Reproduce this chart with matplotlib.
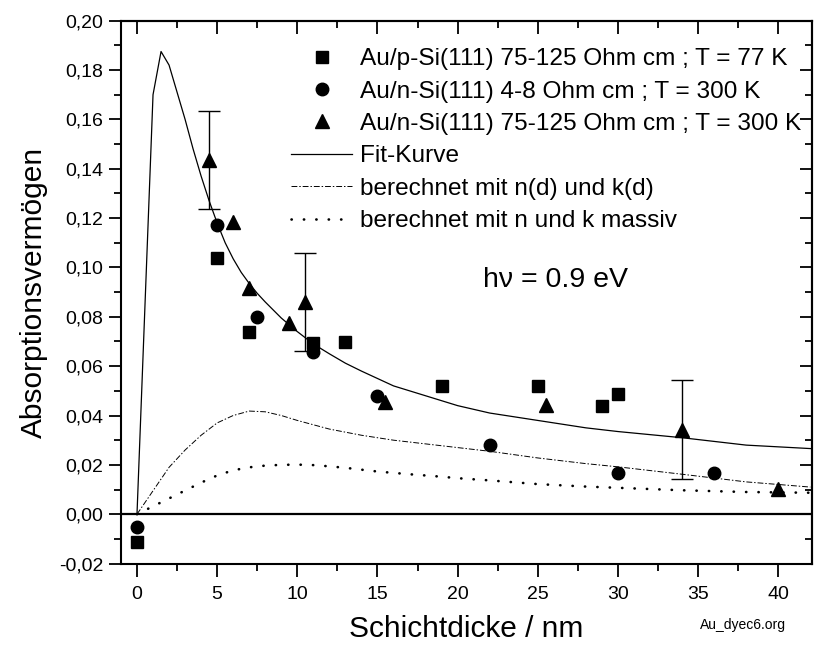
import numpy as np
import matplotlib
matplotlib.use("Agg")
import matplotlib.pyplot as plt
from matplotlib.lines import Line2D
from matplotlib.ticker import MultipleLocator, FuncFormatter

plt.rcParams["font.family"] = ["Liberation Sans", "DejaVu Sans"]

# measured points
sq_x = [0, 5, 7, 11, 13, 19, 25, 29, 30]
sq_y = [-0.0112, 0.104, 0.0739, 0.0694, 0.0698, 0.0519, 0.0519, 0.0438, 0.0489]

circ_x = [0, 5, 7.5, 11, 15, 22, 30, 36]
circ_y = [-0.0051, 0.117, 0.080, 0.0658, 0.0478, 0.028, 0.0168, 0.0168]

tri_x = [4.5, 6, 7, 9.5, 10.5, 15.5, 25.5, 34, 40]
tri_y = [0.1435, 0.1185, 0.0915, 0.0776, 0.086, 0.0455, 0.0442, 0.0343, 0.0104]

err_x = [4.5, 10.5, 34]
err_y = [0.1435, 0.086, 0.0343]
err_size = [0.020, 0.020, 0.020]

# curves
fit_x = [0, 1, 1.5, 2, 2.5, 3, 3.5, 4, 4.5, 5, 5.5, 6, 6.5, 7, 7.5, 8, 9, 10, 11, 12, 13, 14,
         16, 18, 20, 22, 25, 28, 30, 34, 38, 42]
fit_y = [0, 0.170, 0.1875, 0.182, 0.171, 0.160, 0.148, 0.137, 0.127, 0.118, 0.110, 0.1035,
         0.098, 0.0935, 0.0895, 0.086, 0.0795, 0.074, 0.069, 0.065, 0.0612, 0.058, 0.052,
         0.048, 0.044, 0.041, 0.038, 0.035, 0.0335, 0.031, 0.028, 0.0266]

nk_d_x = [0, 1, 2, 3, 4, 5, 6, 7, 8, 9, 10, 12, 14, 16, 18, 20, 22, 25, 28, 30, 34, 38, 42]
nk_d_y = [0, 0.0095, 0.019, 0.026, 0.032, 0.037, 0.040, 0.0418, 0.0415, 0.040, 0.038, 0.0345,
          0.032, 0.030, 0.0285, 0.027, 0.0255, 0.0228, 0.0205, 0.0192, 0.0162, 0.0131, 0.011]

nk_m_x = [0, 1, 2, 3, 4, 5, 6, 7, 8, 9, 10, 11, 12, 13, 15, 17, 19, 20, 22, 25, 28, 30, 34, 38, 42]
nk_m_y = [0, 0.0032, 0.0064, 0.0096, 0.0128, 0.0157, 0.0178, 0.019, 0.0197, 0.0200, 0.0201, 0.0199,
          0.0194, 0.0188, 0.0173, 0.0162, 0.0152, 0.0146, 0.0137, 0.0122, 0.0112, 0.0107, 0.0097,
          0.009, 0.0087]

labels = [
    "Au/p-Si(111) 75-125 Ohm cm ; T = 77 K",
    "Au/n-Si(111) 4-8 Ohm cm ; T = 300 K",
    "Au/n-Si(111) 75-125 Ohm cm ; T = 300 K",
    "Fit-Kurve",
    "berechnet mit n(d) und k(d)",
    "berechnet mit n und k massiv",
]

dashdot = (0, (6, 2, 1.5, 2))
dotted = (0, (0.1, 4.6))

fig = plt.figure(figsize=(8.14, 6.46), dpi=100)
ax = fig.add_axes([0.1486, 0.1276, 0.8489, 0.8404])

ax.axhline(0, color="black", lw=1.6, zorder=1)
ax.plot(fit_x, fit_y, color="black", lw=0.9, zorder=2)
ax.plot(nk_d_x, nk_d_y, color="black", lw=0.7, linestyle=dashdot, zorder=2)
ax.plot(nk_m_x, nk_m_y, color="black", lw=1.9, linestyle=dotted,
        dash_capstyle="round", zorder=2)

ax.errorbar(err_x, err_y, yerr=err_size, fmt="none", ecolor="black", elinewidth=1,
            capsize=8, capthick=1, zorder=3)
ax.plot(sq_x, sq_y, "s", color="black", ms=8, zorder=4)
ax.plot(circ_x, circ_y, "o", color="black", ms=9, zorder=4)
ax.plot(tri_x, tri_y, "^", color="black", ms=10.5, zorder=4)

ax.set_xlim(-1, 42.1)
ax.set_ylim(-0.02, 0.20)

ax.xaxis.set_major_locator(MultipleLocator(5))
ax.xaxis.set_minor_locator(MultipleLocator(2.5))
ax.yaxis.set_major_locator(MultipleLocator(0.02))
ax.yaxis.set_minor_locator(MultipleLocator(0.01))
ax.yaxis.set_major_formatter(FuncFormatter(lambda v, p: f"{v:.2f}".replace(".", ",")))
ax.tick_params(which="major", direction="out", length=9, width=1.3, labelsize=14)
ax.tick_params(axis="x", which="major", pad=7)
ax.tick_params(which="minor", direction="out", length=5, width=1.3)

# mirrored ticks pointing inwards on top and right
top = ax.secondary_xaxis("top")
top.xaxis.set_major_locator(MultipleLocator(5))
top.xaxis.set_minor_locator(MultipleLocator(2.5))
top.tick_params(which="major", direction="in", length=9, width=1.3, labeltop=False)
top.tick_params(which="minor", direction="in", length=5, width=1.3)
right = ax.secondary_yaxis("right")
right.yaxis.set_major_locator(MultipleLocator(0.02))
right.yaxis.set_minor_locator(MultipleLocator(0.01))
right.tick_params(which="major", direction="in", length=9, width=1.3, labelright=False)
right.tick_params(which="minor", direction="in", length=5, width=1.3)
for a in (ax, top, right):
    for s in a.spines.values():
        s.set_linewidth(1.5)

ax.set_xlabel("Schichtdicke / nm", fontsize=21.5, labelpad=9)
ax.set_ylabel("Absorptionsvermögen", fontsize=21.5, labelpad=8)

handles = [
    Line2D([], [], marker="s", color="black", ms=8, linestyle="none"),
    Line2D([], [], marker="o", color="black", ms=9, linestyle="none"),
    Line2D([], [], marker="^", color="black", ms=10.5, linestyle="none"),
    Line2D([], [], color="black", lw=0.9),
    Line2D([], [], color="black", lw=0.7, linestyle=dashdot),
    Line2D([], [], color="black", lw=1.9, linestyle=dotted, dash_capstyle="round"),
]
ax.legend(handles, labels, loc="upper left", bbox_to_anchor=(0.246, 0.9495), frameon=False,
          fontsize=17.6, handlelength=2.5, handletextpad=0.33, labelspacing=0.42,
          borderpad=0, borderaxespad=0)

ax.text(26.1, 0.0949, "hν = 0.9 eV", fontsize=20.5, ha="center", va="center")
fig.text(0.913, 0.032, "Au_dyec6.org", fontsize=10, ha="center", va="center")

fig.savefig("out.png", dpi=100)
